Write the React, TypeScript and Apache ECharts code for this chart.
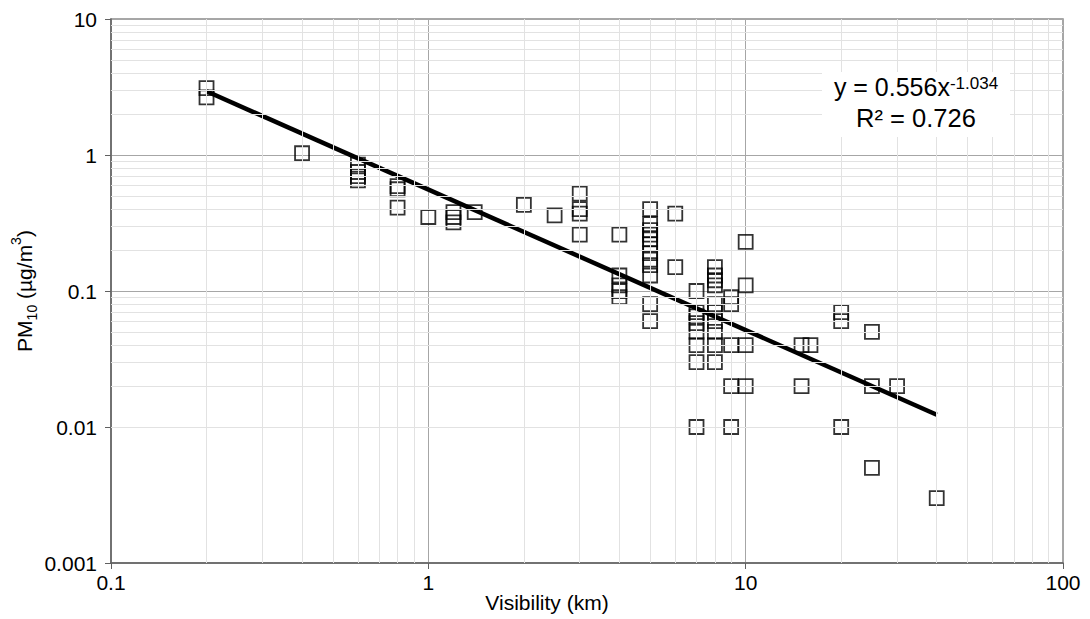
import React, { useEffect, useRef } from "react";
import * as echarts from "echarts";

const visibility: number[] = [
  0.2, 0.2,
  0.4,
  0.6, 0.6, 0.6, 0.6,
  0.8, 0.8, 0.8,
  1.0,
  1.2, 1.2, 1.2,
  1.4,
  2,
  2.5,
  3, 3, 3, 3,
  4, 4, 4, 4, 4,
  5, 5, 5, 5, 5, 5, 5, 5, 5, 5, 5, 5,
  6, 6,
  7, 7, 7, 7, 7, 7, 7, 7,
  8, 8, 8, 8, 8, 8, 8, 8, 8, 8,
  9, 9, 9, 9, 9,
  10, 10, 10, 10,
  15, 15,
  16,
  20, 20, 20,
  25, 25, 25,
  30,
  40,
];
const pm10: number[] = [
  3.1, 2.65,
  1.03,
  0.85, 0.75, 0.7, 0.65,
  0.59, 0.56, 0.41,
  0.35,
  0.38, 0.35, 0.32,
  0.38,
  0.43,
  0.36,
  0.52, 0.4, 0.37, 0.26,
  0.26, 0.13, 0.11, 0.1, 0.09,
  0.4, 0.31, 0.28, 0.26, 0.24, 0.22, 0.19, 0.17, 0.155, 0.13, 0.08, 0.06,
  0.37, 0.15,
  0.1, 0.07, 0.065, 0.058, 0.05, 0.04, 0.03, 0.01,
  0.15, 0.13, 0.12, 0.11, 0.08, 0.07, 0.06, 0.05, 0.04, 0.03,
  0.09, 0.08, 0.04, 0.02, 0.01,
  0.23, 0.11, 0.04, 0.02,
  0.04, 0.02,
  0.04,
  0.07, 0.06, 0.01,
  0.05, 0.02, 0.005,
  0.02,
  0.003,
];

// Power-law trend line end points (y = 0.556x^-1.034)
const trendX: number[] = [0.2, 40];
const trendY: number[] = [2.94, 0.0123];

const xTickLabels: string[] = ["0.1", "1", "10", "100"];
const yTickLabels: string[] = ["0.001", "0.01", "0.1", "1", "10"];
const xMin = 0.1;
const xMax = 100;
const yMin = 0.001;
const yMax = 10;

const equationText = "y = 0.556x{sup|-1.034}";
const r2Text = "R² = 0.726";

function minorValues(min: number, max: number): number[] {
  const out: number[] = [];
  for (let d = min; d < max * 0.999; d *= 10) {
    for (let k = 2; k <= 9; k++) out.push(Number((d * k).toPrecision(3)));
  }
  return out;
}

function fmt(list: string[]) {
  return (v: number) => {
    const s = list.find((t) => Math.abs(Number(t) - v) / v < 1e-6);
    return s ?? "";
  };
}

export default function App() {
  const ref = useRef<HTMLDivElement>(null);
  useEffect(() => {
    if (!ref.current) return;
    const chart = echarts.init(ref.current, undefined, { renderer: "svg" });
    const font = "'Liberation Sans', Arial, sans-serif";
    const minorLine = { color: "#e2e2e2", width: 1, type: "solid" as const };
    const xMinor = minorValues(xMin, xMax).map((v) => ({ xAxis: v }));
    const yMinor = minorValues(yMin, yMax).map((v) => ({ yAxis: v }));
    const points = visibility.map((x, i) => [x, pm10[i]]);
    const trend = trendX.map((x, i) => [x, trendY[i]]);

    chart.setOption({
      animation: false,
      backgroundColor: "#ffffff",
      textStyle: { fontFamily: font },
      grid: {
        left: 111,
        right: 27,
        top: 19,
        bottom: 56,
        show: true,
        borderColor: "#8a8a8a",
        borderWidth: 1.5,
        backgroundColor: "transparent",
        containLabel: false,
        outerBoundsMode: "none",
      },
      xAxis: {
        type: "log",
        logBase: 10,
        min: xMin,
        max: xMax,
        name: "Visibility (km)",
        nameLocation: "middle",
        nameGap: 29,
        nameMoveOverlap: false,
        nameTextStyle: {
          fontSize: 21,
          color: "#000",
          fontFamily: font,
          padding: [0, 80, 0, 0],
        },
        axisLine: { show: true, lineStyle: { color: "#606060", width: 1.5 } },
        axisTick: { show: true, inside: false, length: 6, lineStyle: { color: "#606060" } },
        axisLabel: {
          fontSize: 21,
          color: "#000",
          margin: 9,
          fontFamily: font,
          formatter: fmt(xTickLabels),
        },
        splitLine: { show: true, lineStyle: { color: "#a6a6a6", width: 1 } },
      },
      yAxis: {
        type: "log",
        logBase: 10,
        min: yMin,
        max: yMax,
        name: "PM{sub|10} (µg/m{sup|3})",
        nameLocation: "middle",
        nameRotate: 90,
        nameGap: 72,
        nameMoveOverlap: false,
        nameTextStyle: {
          fontSize: 21,
          lineHeight: 30,
          color: "#000",
          fontFamily: font,
          rich: {
            sub: { fontSize: 14, lineHeight: 14, verticalAlign: "bottom", color: "#000", fontFamily: font },
            sup: { fontSize: 14, lineHeight: 14, verticalAlign: "top", color: "#000", fontFamily: font },
          },
        },
        axisLine: { show: true, lineStyle: { color: "#606060", width: 1.5 } },
        axisTick: { show: true, inside: false, length: 6, lineStyle: { color: "#606060" } },
        axisLabel: {
          fontSize: 21,
          color: "#000",
          margin: 14,
          fontFamily: font,
          formatter: fmt(yTickLabels),
        },
        splitLine: { show: true, lineStyle: { color: "#a6a6a6", width: 1 } },
      },
      series: [
        {
          name: "minor-grid",
          type: "scatter",
          data: [],
          silent: true,
          z: 0,
          markLine: {
            silent: true,
            symbol: "none",
            label: { show: false },
            lineStyle: minorLine,
            animation: false,
            data: [...xMinor, ...yMinor],
          },
        },
        {
          name: "trend",
          type: "line",
          data: trend,
          showSymbol: false,
          symbol: "none",
          lineStyle: { color: "#000", width: 4.5 },
          z: 3,
          silent: true,
        },
        {
          name: "PM10",
          type: "scatter",
          data: points,
          symbol: "rect",
          symbolSize: 14,
          itemStyle: { color: "transparent", borderColor: "#000", borderWidth: 1.8 },
          z: 4,
        },
      ],
      graphic: [
        {
          type: "rect",
          left: 822,
          top: 72,
          z: 100,
          shape: { x: 0, y: 0, width: 188, height: 65 },
          style: { fill: "#ffffff", stroke: "none" },
        },
        {
          type: "text",
          x: 916,
          y: 87,
          z: 101,
          style: {
            text: equationText,
            fontSize: 25,
            fontFamily: font,
            fill: "#000",
            align: "center",
            verticalAlign: "middle",
            rich: {
              sup: { fontSize: 17, verticalAlign: "top", fill: "#000", fontFamily: font },
            },
          },
        },
        {
          type: "text",
          x: 916,
          y: 118,
          z: 101,
          style: {
            text: r2Text,
            fontSize: 25.5,
            fontFamily: font,
            fill: "#000",
            align: "center",
            verticalAlign: "middle",
          },
        },
      ],
    });
    return () => chart.dispose();
  }, []);
  return (
    <div
      ref={ref}
      style={{ position: "fixed", left: 0, top: 0, width: 1090, height: 619, background: "#fff" }}
    />
  );
}
